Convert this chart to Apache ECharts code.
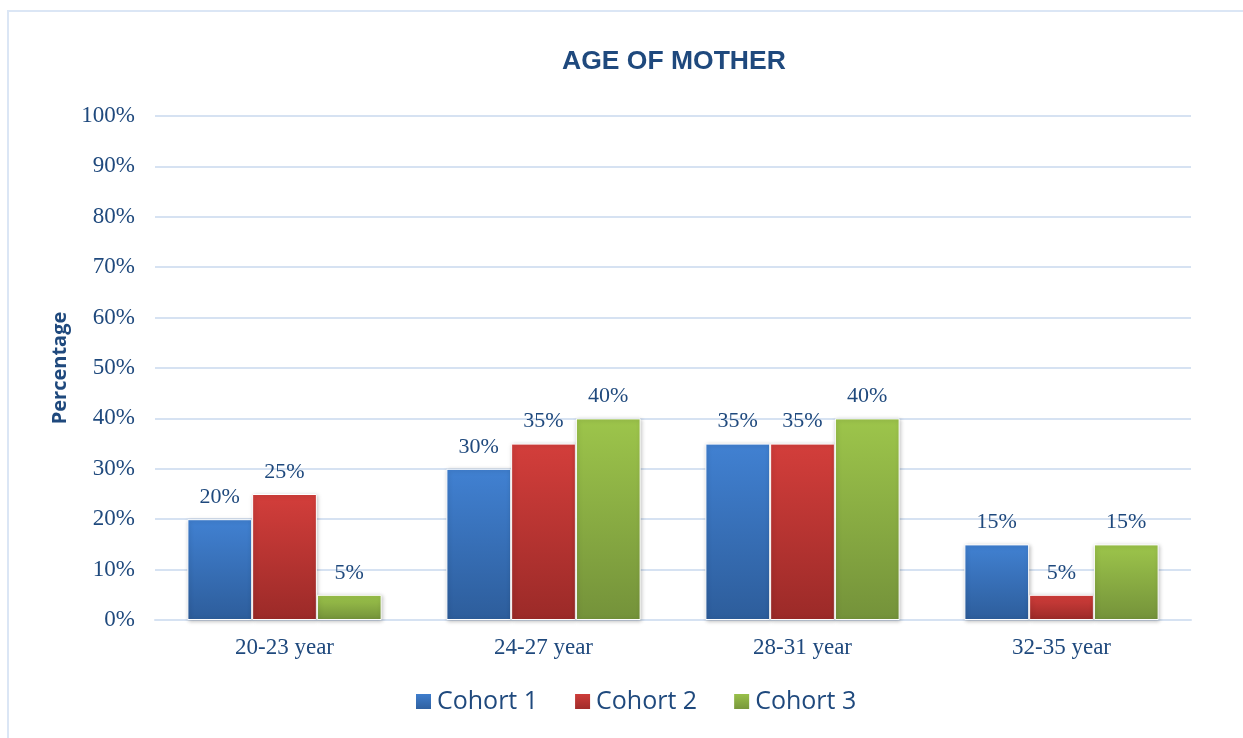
<!DOCTYPE html>
<html>
<head>
<meta charset="utf-8">
<script src="https://cdn.jsdelivr.net/npm/echarts@6/dist/echarts.min.js"></script>
<style>
html,body{margin:0;padding:0;background:#fff;}
#frame{position:absolute;left:7px;top:10px;width:1300px;height:800px;border:2px solid #dbe6f5;box-sizing:border-box;}
#chart{position:absolute;left:0;top:0;width:1243px;height:738px;}
</style>
</head>
<body>
<div id="frame"></div>
<div id="chart"></div>
<script>
const categories = ['20-23 year', '24-27 year', '28-31 year', '32-35 year'];
const cohort1 = [20, 30, 35, 15];
const cohort2 = [25, 35, 35, 5];
const cohort3 = [5, 40, 40, 15];
const seriesNames = ['Cohort 1', 'Cohort 2', 'Cohort 3'];

const chart = echarts.init(document.getElementById('chart'));
const txt = '#1f497d';
function grad(top, bottom) {
  return new echarts.graphic.LinearGradient(0, 0, 0, 1, [
    {offset: 0, color: top}, {offset: 1, color: bottom}
  ]);
}
const label = {
  show: true, position: 'top', distance: 11,
  formatter: p => p.value + '%',
  fontFamily: '"Liberation Serif", serif', fontSize: 22, color: txt
};
function mk(name, data, top, bottom) {
  return {
    name, type: 'bar', data,
    barGap: '0%', barCategoryGap: '25%',
    itemStyle: {color: grad(top, bottom), borderColor: '#fff', borderWidth: 1,
      shadowColor: 'rgba(0,0,0,0.25)', shadowBlur: 4, shadowOffsetX: 1, shadowOffsetY: 1},
    label
  };
}
chart.setOption({
  animation: false,
  title: {text: 'AGE OF MOTHER', left: 557, top: 43,
    textStyle: {fontFamily: '"Liberation Sans", Arial, sans-serif', fontWeight: 'bold', fontSize: 26.5, color: txt}},
  legend: {bottom: 19, left: 409, itemWidth: 17, itemHeight: 17, itemGap: 35,
    icon: 'rect',
    textStyle: {fontFamily: '"Open Sans", "Noto Sans", sans-serif', fontSize: 25, color: txt}},
  grid: {left: 155, right: 52, top: 116, bottom: 118, containLabel: false},
  xAxis: {type: 'category', data: categories,
    axisLine: {lineStyle: {color: '#d6e2f2', width: 2}}, axisTick: {show: false},
    axisLabel: {fontFamily: '"Liberation Serif", serif', fontSize: 23, color: txt, margin: 16}},
  yAxis: {type: 'value', min: 0, max: 100, interval: 10,
    name: 'Percentage', nameLocation: 'middle', nameGap: 84, nameRotate: 90,
    nameTextStyle: {fontFamily: '"Open Sans", "Noto Sans", sans-serif', fontWeight: 'bold', fontSize: 20, color: txt},
    axisLine: {show: false}, axisTick: {show: false},
    axisLabel: {formatter: '{value}%', fontFamily: '"Liberation Serif", serif', fontSize: 23, color: txt, margin: 20},
    splitLine: {lineStyle: {color: '#d6e2f2', width: 2}}},
  series: [
    mk(seriesNames[0], cohort1, '#4181d2', '#2d5d9b'),
    mk(seriesNames[1], cohort2, '#d33e3b', '#9b2a28'),
    mk(seriesNames[2], cohort3, '#9dc54b', '#74923a')
  ]
});
</script>
</body>
</html>
